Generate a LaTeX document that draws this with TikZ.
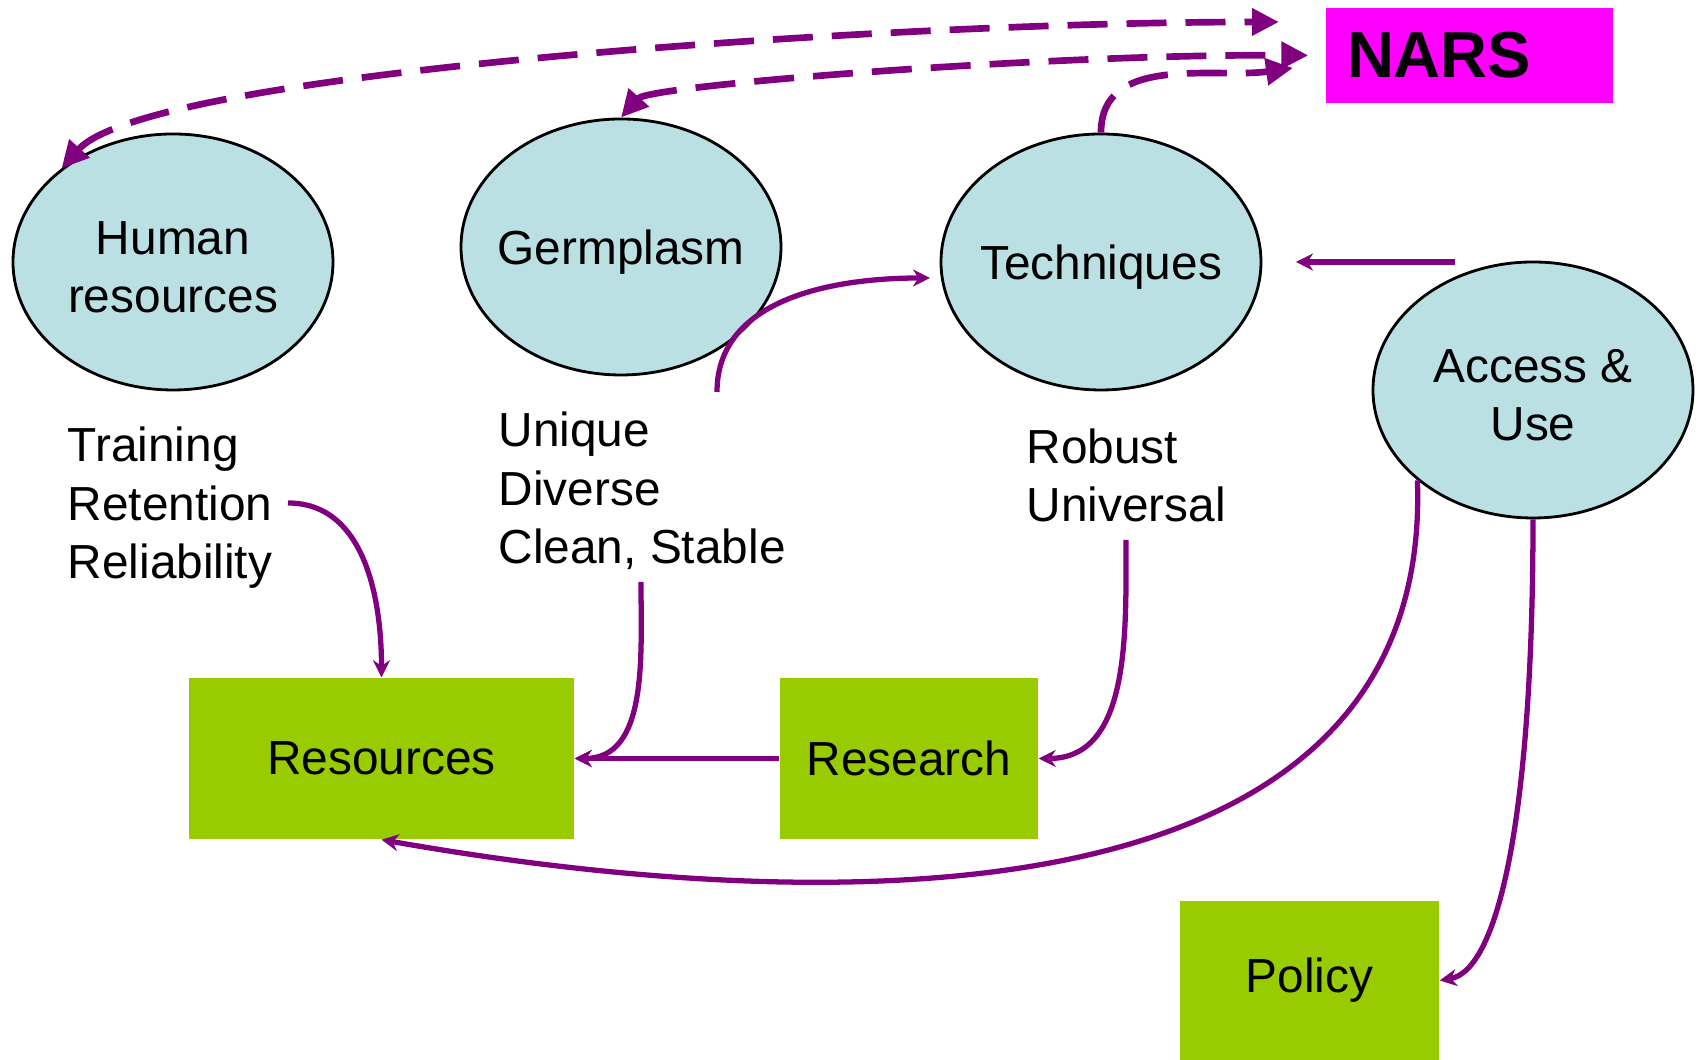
\documentclass[tikz,border=0pt]{standalone}
\usepackage{fontspec}
\setmainfont{Liberation Sans}
\usetikzlibrary{arrows.meta, shapes.geometric}
\definecolor{plum}{HTML}{800080}
\definecolor{paleblue}{HTML}{BBE0E3}
\definecolor{lime}{HTML}{99CC00}
\definecolor{narspink}{HTML}{FF00FF}

\begin{document}
\begin{tikzpicture}[
  every node/.style={text=black, font=\fontsize{13.6}{16.6}\selectfont},
  blob/.style={ellipse, draw=black, line width=0.8pt, fill=paleblue, minimum width=3.2cm, minimum height=2.56cm, inner sep=0pt,
               label={[align=center, yshift=-0.05cm]center:#1}},
  area/.style={fill=lime, minimum height=1.61cm, inner sep=0pt},
  notes/.style={anchor=west, align=left, inner sep=0pt},
  link/.style={plum, line width=1.5pt, -{Stealth[length=1.7mm, width=1.7mm]}},
  feed/.style={plum, line width=1.9pt, dash pattern=on 0.4cm off 0.19cm},
  bighead/.tip={Triangle[length=2.7mm, width=2.6mm]},
]

% Page
\fill[white] (0,0) rectangle (16.99,10.60);
\useasboundingbox (0,0) rectangle (16.99,10.60);

% NARS
\node[fill=narspink, minimum width=2.87cm, minimum height=0.95cm, text width=2.45cm, inner xsep=0.21cm, align=left,
      font=\fontsize{18.5}{20}\selectfont\bfseries] (nars) at (14.695,10.045) {NARS};

% Ellipses
\node[blob={Human\\resources}] (hum)  at (1.73,7.98)  {};
\node[blob=Germplasm]          (germ) at (6.21,8.13)  {};
\node[blob=Techniques]         (tech) at (11.01,7.98) {};
\node[blob={Access \&\\Use}]   (acc)  at (15.33,6.70) {};

% Notes under the ellipses
\node[notes] (train)  at (0.67,5.52)  {Training\\Retention\\Reliability};
\node[notes] (uniq)   at (4.98,5.69)  {Unique\\Diverse\\Clean, Stable};
\node[notes] (robust) at (10.26,5.845) {Robust\\Universal};

% Boxes
\node[area, minimum width=3.85cm] (res)  at (3.815,3.015) {Resources};
\node[area, minimum width=2.58cm] (rsch) at (9.09,3.015)  {Research};
\node[area, minimum width=2.59cm, minimum height=1.59cm] (pol) at (13.095,0.795) {Policy};

% Free ends
\coordinate (n1) at (12.79,10.38);
\coordinate (n3) at (12.93,9.92);
\coordinate (trainout) at (2.88,5.57);
\coordinate (uniqout) at (6.41,4.78);
\coordinate (robustout) at (11.26,5.20);
\coordinate (germout) at (7.17,6.68);
\coordinate (techin) at (9.30,7.82);
\coordinate (accout) at (14.55,7.98);
\coordinate (techright) at (12.96,7.98);

% Dashed links to NARS
\draw[feed, {bighead}-{bighead}] (hum.140) .. controls (1.5,9.9) and (9.0,10.38) .. (n1);
\draw[feed, {bighead}-{bighead}, shorten >=0.17cm] (germ.north) .. controls (6.5,9.75) and (10.5,10.06) .. (nars.west);
\draw[feed, -{bighead}] (tech.north) to[out=90, in=188] (n3);

% Solid links
\draw[link] (accout) -- (techright);
\draw[link] (germout) to[out=90, in=180] (techin);
\draw[link] (trainout) to[out=0, in=90] (res.north);
\draw[link] (uniqout) to[out=-90, in=0] (res.east);
\draw[link] (rsch.west) -- (res.east);
\draw[link] (robustout) to[out=-90, in=0] (rsch.east);
\draw[link] (acc.218) to[out=-88, in=-10, looseness=1.05] (res.south);
\draw[link] (acc.south) .. controls +(0,-2.9) and +(0.6,0.1) .. (pol.east);

\end{tikzpicture}
\end{document}
